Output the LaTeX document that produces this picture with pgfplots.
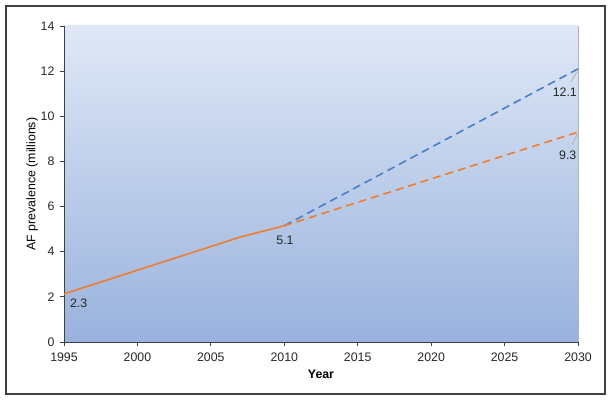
\documentclass[border=0pt]{standalone}
\usepackage{pgfplots}
\pgfplotsset{compat=1.18}
\usepackage{fontspec}
\setmainfont{Liberation Sans}
\definecolor{afor}{HTML}{ED7D31}
\definecolor{afbl}{HTML}{4A7EC7}
\definecolor{bgtop}{HTML}{DFE8F6}
\definecolor{bgbot}{HTML}{99B2DD}
\definecolor{axgray}{HTML}{404040}
\begin{document}
\begin{tikzpicture}
\path[use as bounding box] (0,0) rectangle (612bp,401bp);
\draw[line width=1.6bp, color=axgray] (6bp,7bp) rectangle (605bp,395bp);
\begin{axis}[
  at={(64bp,59bp)}, anchor=south west,
  scale only axis, width=514bp, height=316bp,
  xmin=1995, xmax=2030, ymin=0, ymax=14,
  xtick={1995,2000,...,2030}, ytick={0,2,...,14},
  axis x line*=bottom, axis y line*=left,
  axis line style={color=axgray, line width=0.8bp},
  tick style={color=axgray, line width=0.8bp},
  tick align=outside, major tick length=4bp,
  /pgf/number format/1000 sep={},
  /pgf/number format/assume math mode=true,
  tick label style={font=\fontsize{12.4}{14}\selectfont, color=black!85},
  xticklabel style={yshift=-3bp},
  yticklabel style={xshift=-2bp},
  xlabel={\textbf{Year}}, ylabel={AF prevalence (millions)},
  label style={font=\fontsize{12.4}{14}\selectfont},
  xlabel style={yshift=-2bp},
  ylabel style={yshift=-4bp},
  axis background/.style={shade, top color=bgtop, bottom color=bgbot},
  clip=false,
]
\draw[color=gray!60, line width=0.8bp] (rel axis cs:1,0) -- (rel axis cs:1,1);
\addplot[color=afor, line width=1.6bp] coordinates {(1995,2.13) (2007,4.65) (2010,5.15)};
\addplot[color=afbl, line width=1.6bp, dash pattern=on 8bp off 5bp] coordinates {(2010,5.15) (2030,12.1)};
\addplot[color=afor, line width=1.6bp, dash pattern=on 8bp off 5bp] coordinates {(2010,5.15) (2030,9.3)};
\draw[color=gray!70, line width=0.6bp] (axis cs:2029.5,11.5) -- (axis cs:2029.95,12.0);
\draw[color=gray!70, line width=0.6bp] (axis cs:2029.6,8.75) -- (axis cs:2029.95,9.2);
\begin{scope}[every node/.style={font=\fontsize{12.4}{14}\selectfont, color=black!85}]
\node at (axis cs:1996.0,1.73) {2.3};
\node at (axis cs:2010.05,4.52) {5.1};
\node at (axis cs:2029.1,11.08) {12.1};
\node at (axis cs:2029.3,8.28) {9.3};
\end{scope}
\end{axis}
\end{tikzpicture}
\end{document}
